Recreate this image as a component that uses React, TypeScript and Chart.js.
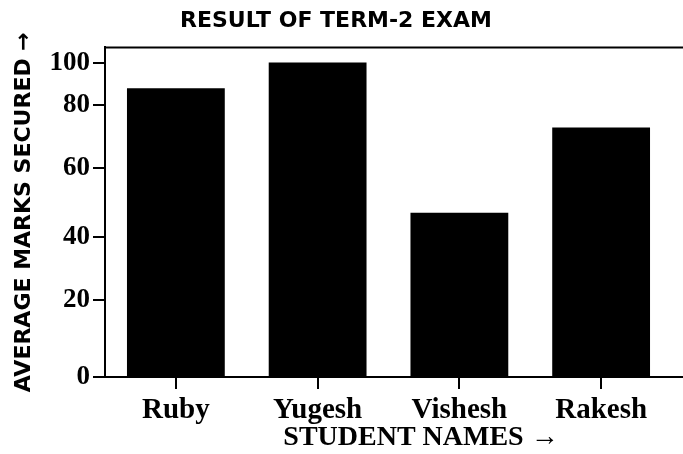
import React, { useEffect, useRef } from 'react';
import { Chart, registerables, LinearScale } from 'chart.js';

// ---- data ----
const studentNames = ['Ruby', 'Yugesh', 'Vishesh', 'Rakesh'];
const averageMarks = [88, 100, 47, 73];
const yTickValues = [0, 20, 40, 60, 80, 100];
const yAxisMax = 107;
// axis calibration of the printed figure: share of the axis height at which each tick value sits
const yTickShares = [0, 0.235, 0.426, 0.633, 0.824, 0.954];

const chartTitle = 'RESULT OF TERM-2 EXAM';
const xAxisTitle = 'STUDENT NAMES \u2192';
const yAxisTitle = 'AVERAGE MARKS SECURED \u2192';

const calValues = [...yTickValues, yAxisMax];
const calShares = [...yTickShares, 1];

function valueToShare(v: number): number {
  if (v <= calValues[0]) return calShares[0];
  for (let i = 1; i < calValues.length; i++) {
    if (v <= calValues[i]) {
      const t = (v - calValues[i - 1]) / (calValues[i] - calValues[i - 1]);
      return calShares[i - 1] + t * (calShares[i] - calShares[i - 1]);
    }
  }
  const n = calValues.length - 1;
  return calShares[n] + ((v - calValues[n]) / (calValues[n] - calValues[n - 1])) * (calShares[n] - calShares[n - 1]);
}

function shareToValue(s: number): number {
  for (let i = 1; i < calShares.length; i++) {
    if (s <= calShares[i]) {
      const t = (s - calShares[i - 1]) / (calShares[i] - calShares[i - 1]);
      return calValues[i - 1] + t * (calValues[i] - calValues[i - 1]);
    }
  }
  return calValues[calValues.length - 1];
}

class PiecewiseScale extends LinearScale {
  static id = 'piecewise';
  static defaults = LinearScale.defaults;
  getPixelForValue(value: any) {
    if (value === null || value === undefined || isNaN(value)) return NaN;
    return this.getPixelForDecimal(valueToShare(+value));
  }
  getValueForPixel(pixel: number) {
    return shareToValue(this.getDecimalForPixel(pixel));
  }
}

Chart.register(...registerables, PiecewiseScale as any);

const serif = 'Liberation Serif, Times New Roman, serif';
const sans = 'DejaVu Sans, Arial, sans-serif';

const frameLines = {
  id: 'frameLines',
  afterDraw(chart: any) {
    const { ctx, chartArea } = chart;
    ctx.save();
    ctx.strokeStyle = '#000';
    ctx.lineWidth = 2;
    ctx.beginPath();
    ctx.moveTo(chartArea.left - 1, chartArea.top);
    ctx.lineTo(chart.width, chartArea.top);
    ctx.moveTo(chartArea.left - 1, chartArea.bottom);
    ctx.lineTo(chart.width, chartArea.bottom);
    ctx.stroke();
    // x-axis title, set slightly right of centre as in the printed figure
    ctx.fillStyle = '#000';
    ctx.font = `bold 28px ${serif}`;
    ctx.textAlign = 'center';
    ctx.textBaseline = 'middle';
    ctx.fillText(xAxisTitle, (chartArea.left + chart.width) / 2 + 27, chart.height - 16);
    ctx.restore();
  },
};

export default function App() {
  const canvasRef = useRef<HTMLCanvasElement | null>(null);

  useEffect(() => {
    document.body.style.margin = '0';
    const canvas = canvasRef.current;
    if (!canvas) return;
    const chart = new Chart(canvas, {
      type: 'bar',
      data: {
        labels: studentNames,
        datasets: [
          {
            data: averageMarks,
            backgroundColor: '#000',
            borderWidth: 0,
            barPercentage: 0.69,
            categoryPercentage: 1,
          },
        ],
      },
      options: {
        animation: false,
        responsive: true,
        maintainAspectRatio: false,
        layout: { padding: { left: 0, right: 11, top: 0, bottom: 0 } },
        plugins: {
          legend: { display: false },
          tooltip: { enabled: false },
          title: {
            display: true,
            text: chartTitle,
            color: '#000',
            font: { family: sans, size: 22, weight: 'bold' },
            padding: { top: 8, bottom: 13 },
          },
        },
        scales: {
          x: {
            grid: {
              display: true,
              drawOnChartArea: false,
              drawTicks: true,
              offset: false,
              tickLength: 12,
              color: '#000',
              lineWidth: 2,
            },
            border: { display: true, color: '#000', width: 2 },
            ticks: {
              color: '#000',
              font: { family: serif, size: 29, weight: 'bold' },
              padding: 4,
              maxRotation: 0,
              autoSkip: false,
            },
            afterFit: (s: any) => {
              s.height = 77;
            },
          },
          y: {
            type: 'piecewise' as any,
            min: 0,
            max: yAxisMax,
            afterBuildTicks: (s: any) => {
              s.ticks = yTickValues.map((v) => ({ value: v }));
            },
            grid: {
              display: true,
              drawOnChartArea: false,
              drawTicks: true,
              tickLength: 12,
              color: '#000',
              lineWidth: 2,
            },
            border: { display: true, color: '#000', width: 2 },
            ticks: {
              color: '#000',
              font: { family: serif, size: 27, weight: 'bold' },
              padding: 3,
              callback: (v: any) => String(v),
            },
            title: {
              display: true,
              text: yAxisTitle,
              color: '#000',
              font: { family: sans, size: 22, weight: 'bold' },
              padding: { top: 11, bottom: 0 },
            },
            afterFit: (s: any) => {
              s.width = 105;
            },
          },
        },
      } as any,
      plugins: [frameLines],
    });
    return () => chart.destroy();
  }, []);

  return (
    <div style={{ position: 'relative', width: 683, height: 454 }}>
      <canvas ref={canvasRef} />
    </div>
  );
}
